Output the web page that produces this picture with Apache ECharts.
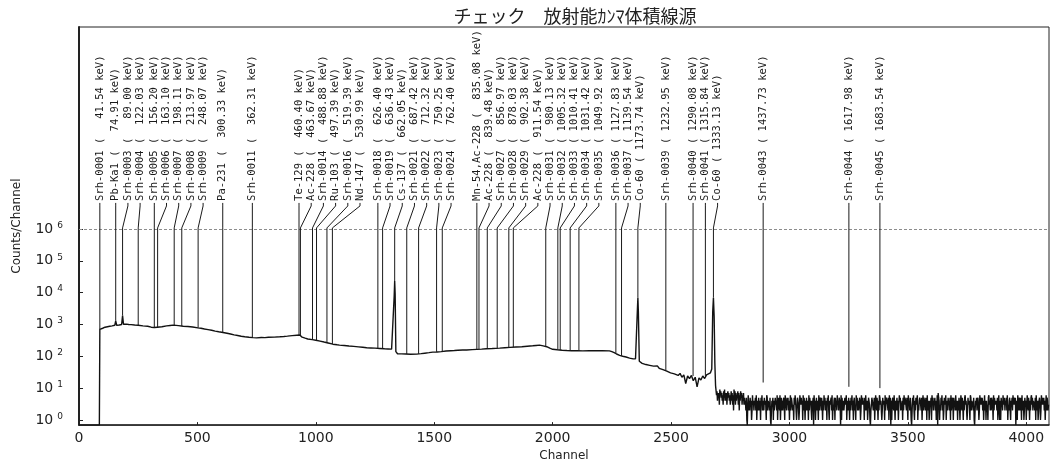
<!DOCTYPE html>
<html><head><meta charset="utf-8">
<script src="https://cdn.jsdelivr.net/npm/echarts@6/dist/echarts.min.js"></script>
<style>html,body{margin:0;padding:0;background:#fff}#c{width:1056px;height:467px}</style>
</head><body><div id="c"></div>
<script>
const titleText = 'チェック　放射能ｶﾝﾏ体積線源';
const xTickValues = [0, 500, 1000, 1500, 2000, 2500, 3000, 3500, 4000];
const yDecades = [0, 1, 2, 3, 4, 5, 6];

const peakNames = ['Srh-0001','Pb-Ka1','Srh-0003','Srh-0004','Srh-0005','Srh-0006','Srh-0007','Srh-0008','Srh-0009','Pa-231','Srh-0011',
  'Te-129','Ac-228','Srh-0014','Ru-103','Srh-0016','Nd-147','Srh-0018','Srh-0019','Cs-137','Srh-0021','Srh-0022','Srh-0023','Srh-0024',
  'Mn-54,Ac-228','Ac-228','Srh-0027','Srh-0028','Srh-0029','Ac-228','Srh-0031','Srh-0032','Srh-0033','Srh-0034','Srh-0035','Srh-0036','Srh-0037','Co-60',
  'Srh-0039','Srh-0040','Srh-0041','Co-60','Srh-0043','Srh-0044','Srh-0045'];
const peakEnergies = [41.54,74.91,89.00,122.03,156.20,163.10,198.11,213.97,248.07,300.33,362.31,
  460.40,463.67,488.88,497.39,519.39,530.99,626.40,636.43,662.05,687.42,712.32,750.25,762.40,
  835.08,839.48,856.97,878.03,902.38,911.54,980.13,1005.32,1010.41,1031.42,1049.92,1127.83,1139.54,1173.74,
  1232.95,1290.08,1315.84,1333.13,1437.73,1617.98,1683.54];
const peakChannels = [88,155,184,250,318,332,402,434,503,607,732,
  929,935,986,1003,1047,1070,1262,1282,1333,1384,1434,1510,1534,
  1680,1689,1724,1766,1815,1834,1971,2022,2032,2074,2111,2267,2291,2360,
  2478,2593,2645,2679,2889,3251,3382];
const peakCounts = [700,1300,1900,940,800,820,950,890,780,560,385,
  460,465,330,318,270,242,178,174,23000,118,119,137,141,
  165,167,173,178,189,193,205,160,156,151,149,125,103,6900,
  36,24,24,6900,15,11,10];

const specChannels = [0,86,88,100,110,120,130,140,148,151,155,159,170,180,184,188,200,210,220,235,250,270,290,305,318,330,350,370,385,397,
  410,420,440,460,480,502,515,530,545,560,575,590,608,625,640,655,670,685,700,718,735,750,770,785,800,825,848,865,880,900,920,932,942,955,966,
  985,1000,1018,1035,1052,1072,1090,1100,1120,1140,1160,1180,1198,1215,1232,1250,1270,1290,1305,1320,1328,1331,1333,1335,1338,1345,1362,1380,
  1400,1426,1445,1460,1478,1494,1512,1530,1550,1570,1585,1600,1620,1637,1660,1680,1700,1720,1745,1776,1798,1820,1845,1870,1893,1916,1930,1945,
  1960,1975,1988,2000,2020,2040,2060,2080,2105,2127,2155,2180,2210,2240,2250,2260,2270,2283,2296,2310,2325,2340,2350,2355,2358,2360,2362,2366,
  2370,2378,2386,2394,2402,2410,2418,2426,2434,2442,2450,2458,2466,2474,2482,2490,2498,2506,2514,2522,2530,2538,2546,2554,2562,2570,2578,2586,
  2594,2602,2610,2618,2626,2634,2642,2650,2658,2666,2672,2676,2679,2682,2685,2688];
const specCounts = [0,0,705,760,820,850,880,905,920,940,1300,945,960,1000,1900,1010,1020,1000,990,960,940,900,880,820,800,820,850,905,930,950,
  935,920,880,860,830,780,760,720,690,660,620,590,560,530,500,470,450,425,410,395,385,380,390,385,395,400,410,420,430,445,460,465,400,370,350,
  335,320,300,280,262,240,230,225,218,210,205,198,192,186,183,180,176,172,170,168,175,8000,23000,9000,140,120,119,118,
  116,117,121,125,130,135,137,140,146,150,152,155,157,158,162,165,168,172,175,180,185,190,195,200,207,214,219,224,
  212,200,180,166,160,155,152,150,149,148,150,150,149,148,140,130,118,107,100,95,88,83,84,85,3000,6900,2500,70,
  66,60,64,55,58,52,56,49,47,50,42,45,38,40,34,37,30,33,28,31,25,29,22,26,14,24,20,25,
  17,22,11,21,18,24,20,26,23,30,40,2500,6900,1800,60,12];

const noiseStartChannel = 2692;
const noiseStepChannels = 2;
const noiseCounts =
  '6847573968' + '5746385947' + '4736857463' + '5847362948' + '3746583726' + '4857364735' +
  '3425103624' + '2534126342' + '4352613425' + '3241536243' + '2534316524' +
  '4325102435' + '1423534261' + '3542613524' + '2453164325' + '3524136254' +
  '4231536421' + '2543126435' + '3416253142' + '5234162534' + '2143506341' +
  '3524316245' + '4253142635' + '2341536214' + '3452613245' + '1534263425' +
  '4306153242' + '2534613425' + '3142536241' + '4523163524' + '2354126435' +
  '3415263241' + '2543102354' + '4235136425' + '3142653421' + '2534316245' +
  '4325162504' + '1453263142' + '3524136452' + '2341526354' + '4253163425' +
  '3102536214' + '2534613245' + '4325136254' + '3254162341' + '2435163524' +
  '3524126075' + '4132536241' + '2543613425' + '3425162354' + '1534263241' +
  '4253136425' + '3142563421' + '2534316524' + '4325102435' + '2453126354' +
  '3524136241' + '4231563425' + '2543162534' + '3425136214' + '1534263452' +
  '4352613245' + '2143526354' + '3504316425' + '4253162341' + '2534136425' +
  '3142563524' + '4325163241' + '2453126435' + '3524136254' + '23';

const Y_MIN = 0.69, Y_MAX = 2.2e12;
const LABEL_GAP = 12.2;

const spectrum = [];
specChannels.forEach((c, i) => spectrum.push([c, Math.max(specCounts[i], Y_MIN)]));
for (let i = 0; i < noiseCounts.length; i++) {
  spectrum.push([noiseStartChannel + i * noiseStepChannels, Math.max(+noiseCounts[i], Y_MIN)]);
}

function peakLabel(i) {
  return peakNames[i] + ' ( ' + peakEnergies[i].toFixed(2).padStart(7, ' ') + ' keV)';
}

const chart = echarts.init(document.getElementById('c'), null, {renderer: 'canvas'});
chart.setOption({
  backgroundColor: '#fff',
  animation: false,
  title: {
    text: titleText, left: 570, top: 2, textAlign: 'center',
    textStyle: {fontFamily: '"Noto Sans CJK JP"', fontSize: 18, fontWeight: 'normal', color: '#222'}
  },
  grid: {left: 79, right: 7, top: 27, bottom: 39, show: true, borderColor: '#222', borderWidth: 1},
  xAxis: {
    type: 'value', min: 0, max: 4096,
    name: 'Channel', nameLocation: 'middle', nameGap: 22,
    nameTextStyle: {fontFamily: 'DejaVu Sans', fontSize: 12, color: '#222'},
    axisLine: {show: true, lineStyle: {color: '#222', width: 1.5}},
    axisTick: {show: true, inside: true, length: 3, customValues: xTickValues, lineStyle: {color: '#222'}},
    axisLabel: {customValues: xTickValues, formatter: v => String(v), fontFamily: 'DejaVu Sans', fontSize: 14, color: '#222', margin: 6},
    splitLine: {show: false}
  },
  yAxis: {
    type: 'log', logBase: 10, min: Y_MIN, max: Y_MAX,
    name: 'Counts/Channel', nameLocation: 'middle', nameGap: 56,
    nameTextStyle: {fontFamily: 'DejaVu Sans', fontSize: 12, color: '#222'},
    axisLine: {show: true, lineStyle: {color: '#222', width: 2}},
    axisTick: {show: true, inside: true, length: 4, customValues: yDecades.map(e => Math.pow(10, e)), lineStyle: {color: '#222'}},
    axisLabel: {
      customValues: yDecades.map(e => Math.pow(10, e)),
      margin: 16,
      formatter: v => '{b|10}{s|' + Math.round(Math.log10(v)) + '}',
      rich: {
        b: {fontFamily: 'DejaVu Sans', fontSize: 14, color: '#222', lineHeight: 16},
        s: {fontFamily: 'DejaVu Sans', fontSize: 9, color: '#222', verticalAlign: 'top', padding: [0, 0, 0, 4]}
      }
    },
    splitLine: {show: false}
  },
  series: [
    {
      type: 'line', data: spectrum, symbol: 'none', showSymbol: false, silent: true,
      lineStyle: {color: '#121212', width: 1.4},
      markLine: {
        silent: true, symbol: 'none', label: {show: false},
        lineStyle: {color: '#8c8c8c', type: [3, 2], width: 1},
        data: [{yAxis: 1e6}]
      }
    },
    {
      type: 'custom', coordinateSystem: 'cartesian2d', silent: true, clip: false, z: 5,
      data: peakChannels.map((c, i) => [c, peakCounts[i]]),
      renderItem: (params, api) => {
        const xs = peakChannels.map(c => api.coord([c, 1])[0]);
        const lxs = [];
        xs.forEach((x, k) => lxs.push(k === 0 ? x : Math.max(x, lxs[k - 1] + LABEL_GAP)));
        const i = params.dataIndex;
        const p0 = api.coord([peakChannels[i], peakCounts[i]]);
        const yb = api.coord([peakChannels[i], 1e6])[1] - 1;
        const lx = lxs[i];
        return {
          type: 'group',
          children: [
            {type: 'polyline', shape: {points: [[p0[0], p0[1]], [p0[0], yb], [lx, yb - 22], [lx, yb - 25]]},
             style: {stroke: '#1a1a1a', lineWidth: 1, fill: 'none'}},
            {type: 'text', x: lx, y: yb - 27, rotation: Math.PI / 2,
             style: {text: peakLabel(i), fill: '#1a1a1a', fontFamily: '"DejaVu Sans Mono"', fontSize: 10.5,
                     align: 'left', verticalAlign: 'middle'}}
          ]
        };
      }
    }
  ]
});
</script></body></html>
